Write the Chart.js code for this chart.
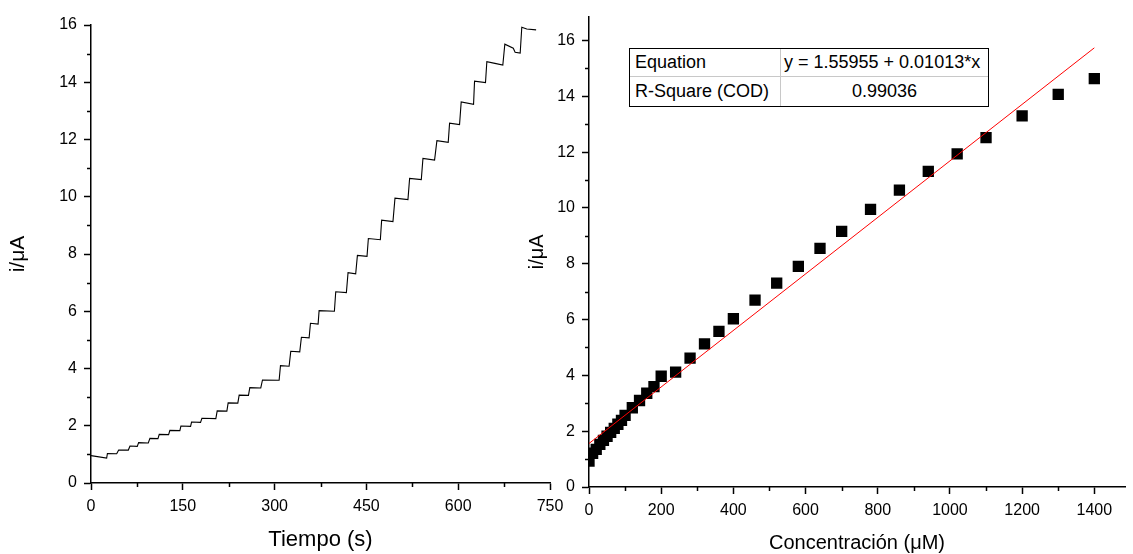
<!DOCTYPE html>
<html lang="es">
<head>
<meta charset="utf-8">
<title>Cronoamperometría y curva de calibración</title>
<script src="https://cdn.jsdelivr.net/npm/chart.js@4.4.0/dist/chart.umd.min.js"></script>
<style>
  html, body { margin: 0; padding: 0; background: #fff; overflow: hidden; }
  #wrap { position: relative; width: 1133px; height: 554px; }
  canvas { position: absolute; top: 0; }
  #cvTiempo { left: 0; }
  #cvConc { left: 515px; }
  #tablaAjuste {
    position: absolute; left: 629px; top: 48px; width: 360px; height: 59px;
    box-sizing: border-box; border: 1px solid #000; background: #fff;
    display: grid; grid-template-columns: 151px 1fr; grid-template-rows: 28px 1fr;
    font-family: Arial, "Liberation Sans", sans-serif; font-size: 18px; color: #000;
  }
  #tablaAjuste .c { display: flex; align-items: center; padding-left: 5px; white-space: nowrap; }
  #tablaAjuste .c1 { border-right: 1px solid #c8c8c8; }
  #tablaAjuste .r1 { border-bottom: 1px solid #c8c8c8; }
  #tablaAjuste .c2 { padding-left: 3px; }
  #tablaAjuste .centro { justify-content: center; padding-left: 0; }
</style>
</head>
<body>
<div id="wrap">
  <canvas id="cvTiempo" width="600" height="554"></canvas>
  <canvas id="cvConc" width="618" height="554"></canvas>
  <div id="tablaAjuste">
    <div class="c c1 r1">Equation</div><div class="c c2 r1">y = 1.55955 + 0.01013*x</div>
    <div class="c c1">R-Square (COD)</div><div class="c c2 centro">0.99036</div>
  </div>
</div>
<script>
// cronoamperometria: vertices (s, uA)
const tiempo = [
  0, 25.6, 26.8, 42, 45.2, 61, 63.7, 75.6, 77.8, 93.6, 96.3, 109.4, 111.5, 126.8,
  128.9, 145.2, 146.9, 162.7, 164.3, 179, 181.2, 204, 206.2, 222, 224.1, 239.9,
  242.1, 257.3, 259.5, 277.4, 280.2, 307.4, 309.6, 323.7, 326.4, 341.1, 343.8, 356.4,
  358.6, 371.1, 372.7, 397.7, 399.9, 417.3, 420, 432.5, 435.3, 451, 453.2, 472.8,
  474.9, 493.4, 496.7, 517.9, 520.6, 539.7, 542.4, 561.4, 565.2, 583.7, 585.9, 602.2,
  604.9, 625.1, 626.7, 644.6, 646.8, 660, 672.9, 676.2, 690, 693, 701.3, 703.9,
  712, 727.3
];
const corriente = [
  0.955, 0.87, 1.03, 1.02, 1.15, 1.15, 1.29, 1.28, 1.41, 1.40, 1.56, 1.55, 1.70, 1.69,
  1.84, 1.83, 1.99, 1.98, 2.13, 2.12, 2.26, 2.25, 2.52, 2.51, 2.80, 2.79,
  3.07, 3.06, 3.33, 3.32, 3.60, 3.59, 4.10, 4.08, 4.60, 4.58, 5.09, 5.07,
  5.58, 5.55, 6.02, 6.00, 6.68, 6.65, 7.35, 7.31, 7.95, 7.92, 8.54, 8.50,
  9.18, 9.13, 9.95, 9.90, 10.64, 10.60, 11.34, 11.28, 11.96, 11.90, 12.57, 12.52,
  13.31, 13.23, 14.04, 13.99, 14.72, 14.66, 14.60, 15.33, 15.19, 15.05, 15.02, 15.92,
  15.86, 15.83
];
const ticksTiempo = [0, 150, 300, 450, 600, 750];
const ticksCorriente = [0, 2, 4, 6, 8, 10, 12, 14, 16];

// curva de calibracion
const concentracion = [
  0, 10, 20, 30, 40, 50, 60, 70, 80, 90, 100, 120, 140, 160, 180, 200,
  240, 280, 320, 360, 400, 460, 520, 580, 640, 700, 780, 860, 940, 1020,
  1100, 1200, 1300, 1400
];
const corrienteCal = [
  0.93, 1.21, 1.35, 1.53, 1.67, 1.82, 1.96, 2.10, 2.25, 2.39, 2.57, 2.84, 3.10, 3.36, 3.60, 3.97,
  4.12, 4.62, 5.13, 5.58, 6.03, 6.70, 7.31, 7.91, 8.55, 9.16, 9.95, 10.64, 11.31, 11.94,
  12.52, 13.30, 14.07, 14.64
];
const ajusteX = [0, 1400];
const ajusteY = [1.56, 15.74];
const ticksConc = [0, 200, 400, 600, 800, 1000, 1200, 1400];

Chart.defaults.font.family = 'Arial, "Liberation Sans", sans-serif';
Chart.defaults.color = '#000';

// marcas menores (Chart.js no las tiene)
const marcasMenores = {
  id: 'marcasMenores',
  afterDraw(chart, args, opts) {
    const ctx = chart.ctx;
    ctx.save();
    ctx.strokeStyle = '#000';
    ctx.lineWidth = 1.5;
    ['x', 'y'].forEach(id => {
      const s = chart.scales[id];
      const paso = opts[id];
      const mayores = s.ticks.map(t => t.value);
      for (let k = 0; k * paso <= s.max + 1e-9; k++) {
        const v = k * paso;
        if (mayores.some(m => Math.abs(m - v) < 1e-9)) continue;
        const p = Math.round(s.getPixelForValue(v)) + 0.5;
        ctx.beginPath();
        if (id === 'x') {
          ctx.moveTo(p, s.top);
          ctx.lineTo(p, s.top + opts.len);
        } else {
          ctx.moveTo(s.right, p);
          ctx.lineTo(s.right - opts.len, p);
        }
        ctx.stroke();
      }
    });
    ctx.restore();
  }
};

function eje(min, max, valores, titulo, tituloTam, tituloPad, ancho, alto) {
  return {
    type: 'linear',
    min: min,
    max: max,
    border: { display: true, color: '#000', width: 1.5 },
    grid: { display: true, drawOnChartArea: false, drawTicks: true, tickLength: 7, tickWidth: 1.5, tickColor: '#000' },
    ticks: { font: { size: 16 }, color: '#000', padding: 7, includeBounds: false, maxRotation: 0, callback: v => String(v) },
    afterBuildTicks: s => { s.ticks = valores.map(v => ({ value: v })); },
    afterFit: s => {
      if (ancho) s.width = ancho;
      if (alto) s.height = alto;
    },
    title: { display: true, text: titulo, font: { size: tituloTam, lineHeight: 1 }, color: '#000', padding: tituloPad }
  };
}

new Chart(document.getElementById('cvTiempo'), {
  type: 'line',
  data: {
    datasets: [{
      data: tiempo.map((t, k) => ({ x: t, y: corriente[k] })),
      borderColor: '#000',
      borderWidth: 1.1,
      pointRadius: 0,
      tension: 0,
      fill: false
    }]
  },
  options: {
    responsive: false,
    animation: false,
    events: [],
    layout: { padding: { top: 25, right: 50, bottom: 0, left: 0 } },
    plugins: {
      legend: { display: false },
      tooltip: { enabled: false },
      marcasMenores: { x: 75, y: 1, len: 4 }
    },
    scales: {
      x: eje(0, 750, ticksTiempo, 'Tiempo (s)', 22, { top: 0, bottom: 3 }, null, 71),
      y: eje(0, 16, ticksCorriente, 'i/μA', 21, { top: 8, bottom: 0 }, 91, null)
    }
  },
  plugins: [marcasMenores]
});

new Chart(document.getElementById('cvConc'), {
  type: 'scatter',
  data: {
    datasets: [{
      type: 'line',
      data: ajusteX.map((c, k) => ({ x: c, y: ajusteY[k] })),
      borderColor: '#ff0000',
      borderWidth: 1,
      pointRadius: 0,
      fill: false,
      order: 0
    }, {
      data: concentracion.map((c, k) => ({ x: c, y: corrienteCal[k] })),
      pointStyle: 'rect',
      pointRadius: 8,
      backgroundColor: '#000',
      borderWidth: 0,
      order: 1
    }]
  },
  options: {
    responsive: false,
    animation: false,
    events: [],
    layout: { padding: { top: 14, right: 2, bottom: 0, left: 0 } },
    plugins: {
      legend: { display: false },
      tooltip: { enabled: false },
      marcasMenores: { x: 100, y: 1, len: 4 }
    },
    scales: {
      x: eje(0, 1485, ticksConc, 'Concentración (μM)', 20, { top: 0, bottom: 1 }, null, 67),
      y: eje(0, 16.86, ticksCorriente, 'i/μA', 20, { top: 12, bottom: 0 }, 74, null)
    }
  },
  plugins: [marcasMenores]
});
</script>
</body>
</html>
